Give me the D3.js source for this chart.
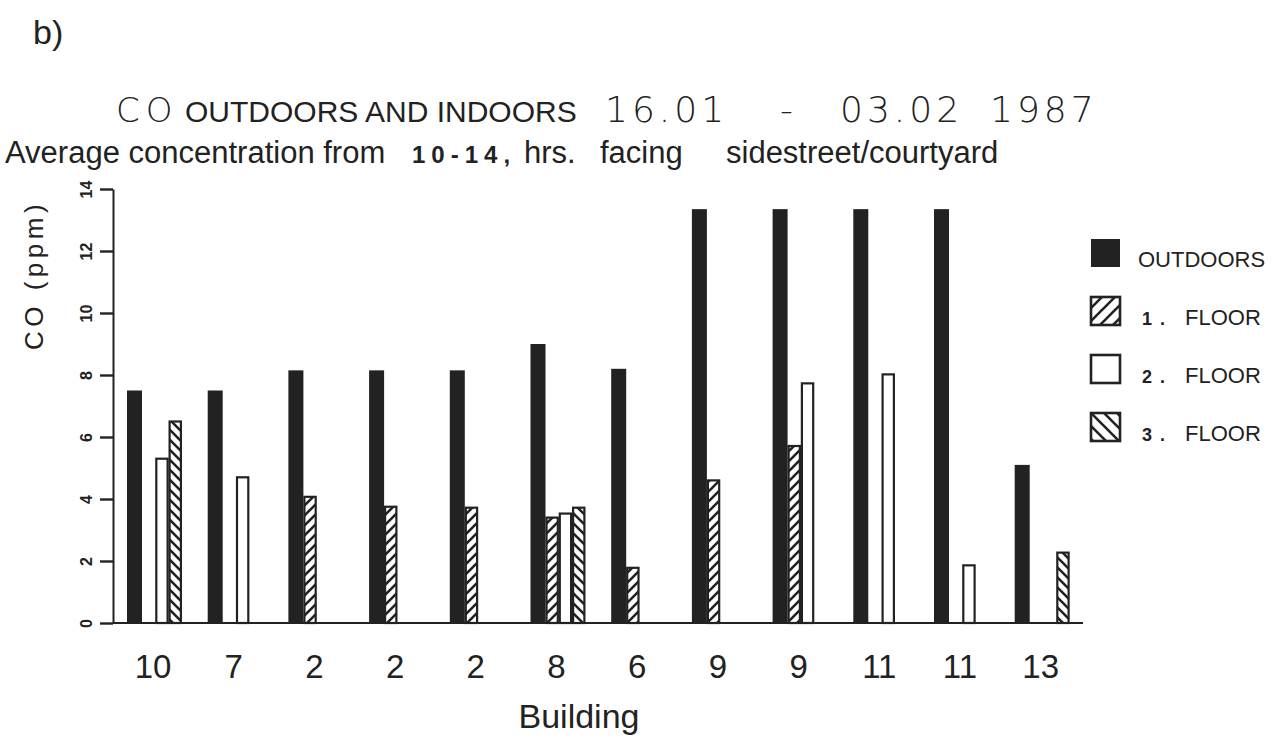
<!DOCTYPE html>
<html><head><meta charset="utf-8">
<script src="https://cdn.jsdelivr.net/npm/d3@7"></script>
<style>body{margin:0;background:#fff}svg{display:block}</style>
</head><body>
<svg id="chart" width="1277" height="741"></svg>
<script>
// ---- data ----
const buildings = ["10","7","2","2","2","8","6","9","9","11","11","13"];
const outdoors  = [7.5, 7.5, 8.15, 8.15, 8.15, 9.0, 8.2, 13.35, 13.35, 13.35, 13.35, 5.1];
const floor1    = [null, null, 4.07, 3.75, 3.72, 3.4, 1.78, 4.6, 5.71, null, null, null];
const floor2    = [5.3, 4.7, null, null, null, 3.53, null, null, 7.73, 8.02, 1.86, null];
const floor3    = [6.5, null, null, null, null, 3.72, null, null, null, null, null, 2.27];
const yTicks    = [0, 2, 4, 6, 8, 10, 12, 14];
const seriesKeys   = ["out", "f1", "f2", "f3"];
const legendNums   = ["", "1.", "2.", "3."];
const legendTexts  = ["OUTDOORS", "FLOOR", "FLOOR", "FLOOR"];

const INK = "#222";
const SANS = "Liberation Sans, Arial, sans-serif";
const THIN = "DejaVu Sans, sans-serif";
const svg = d3.select("#chart");
const defs = svg.append("defs");

function hatch(id, dir, size, sw) {
  const p = defs.append("pattern").attr("id", id)
    .attr("patternUnits", "userSpaceOnUse").attr("width", size).attr("height", size);
  p.append("rect").attr("width", size).attr("height", size).attr("fill", "#fff");
  const s = size;
  const d = dir > 0
    ? `M${-s/4},${s/4} L${s/4},${-s/4} M0,${s} L${s},0 M${3*s/4},${5*s/4} L${5*s/4},${3*s/4}`
    : `M${-s/4},${3*s/4} L${s/4},${5*s/4} M0,0 L${s},${s} M${3*s/4},${-s/4} L${5*s/4},${s/4}`;
  p.append("path").attr("d", d).attr("stroke", INK).attr("stroke-width", sw).attr("fill", "none");
}
hatch("h1", 1, 10, 2.6);
hatch("h3", -1, 10, 2.6);
hatch("lh1", 1, 13, 2.6);
hatch("lh3", -1, 13, 2.6);

const fills = {out: INK, f1: "url(#h1)", f2: "#fff", f3: "url(#h3)"};
const legendFills = [INK, "url(#lh1)", "#fff", "url(#lh3)"];

// ---- scales ----
const x = d3.scaleBand().domain(d3.range(buildings.length)).range([127, 127 + 80.7 * buildings.length]).padding(0);
const y = d3.scaleLinear().domain([0, 14]).range([623, 189]);
const slot = d3.scaleOrdinal().domain(seriesKeys).range([0, 15, 28.3, 41.6]);
const slotW = d3.scaleOrdinal().domain(seriesKeys).range([15, 13.3, 13.3, 13.3]);

// ---- bars ----
const series = {out: outdoors, f1: floor1, f2: floor2, f3: floor3};
const barData = [];
buildings.forEach((b, i) => {
  seriesKeys.forEach(k => {
    const v = series[k][i];
    if (v != null) barData.push({i, k, v});
  });
});
svg.append("g").selectAll("rect").data(barData).join("rect")
  .attr("x", d => x(d.i) + slot(d.k) + (d.k === "out" ? 0 : 1))
  .attr("width", d => slotW(d.k) - (d.k === "out" ? 0 : 2))
  .attr("y", d => y(d.v))
  .attr("height", d => y(0) - y(d.v))
  .attr("fill", d => fills[d.k])
  .attr("stroke", d => d.k === "out" ? "none" : INK)
  .attr("stroke-width", 2.2);

// ---- axes ----
const yAxis = svg.append("g").attr("transform", "translate(113,0)")
  .call(d3.axisLeft(y).tickValues(yTicks).tickSize(13).tickSizeOuter(0).tickFormat(d => d));
yAxis.select(".domain").attr("stroke", INK).attr("stroke-width", 2);
yAxis.selectAll(".tick line").attr("stroke", INK).attr("stroke-width", 2.4);
yAxis.selectAll(".tick text")
  .attr("x", 0).attr("y", 0).attr("dy", "0.35em")
  .attr("text-anchor", "middle")
  .attr("transform", "translate(-27,0) rotate(-90)")
  .attr("font-family", SANS)
  .attr("font-weight", "bold").attr("font-size", 16).attr("fill", INK);

// x baseline
svg.append("line").attr("x1", 113).attr("x2", 1083).attr("y1", y(0)).attr("y2", y(0))
  .attr("stroke", INK).attr("stroke-width", 2.2);

// x labels
svg.append("g").selectAll("text").data(buildings).join("text")
  .attr("x", (d, i) => x(i) + 26).attr("y", 678)
  .attr("text-anchor", "middle")
  .attr("font-family", SANS)
  .attr("font-size", 33).attr("fill", INK)
  .text(d => d);

svg.append("text").attr("x", 579).attr("y", 728).attr("text-anchor", "middle")
  .attr("font-family", SANS)
  .attr("font-size", 34).attr("fill", INK).text("Building");

// y title
svg.append("text").attr("transform", "translate(43,275) rotate(-90)")
  .attr("text-anchor", "middle")
  .attr("font-family", SANS)
  .attr("font-size", 26).attr("letter-spacing", 4.5).attr("fill", INK)
  .text("CO (ppm)");

// ---- titles ----
svg.append("text").attr("x", 33).attr("y", 44)
  .attr("font-family", SANS)
  .attr("font-size", 34).attr("fill", INK).text("b)");

const titleParts = [
  {t: "CO", x: 116, f: THIN, s: 34, ls: 6, w: 200},
  {t: "OUTDOORS AND INDOORS", x: 185, f: SANS, s: 30, ls: 0, w: 400},
  {t: "16.01", x: 605, f: THIN, s: 36, ls: 4, w: 200},
  {t: "-", x: 780, f: THIN, s: 36, ls: 0, w: 200},
  {t: "03.02", x: 840, f: THIN, s: 36, ls: 4, w: 200},
  {t: "1987", x: 990, f: THIN, s: 36, ls: 4, w: 200}
];
svg.append("g").selectAll("text").data(titleParts).join("text")
  .attr("x", d => d.x).attr("y", 122)
  .attr("font-family", d => d.f).attr("font-size", d => d.s)
  .attr("font-weight", d => d.w).attr("letter-spacing", d => d.ls)
  .attr("fill", INK)
  .text(d => d.t);

const subParts = [
  {t: "Average concentration from", x: 5, b: false},
  {t: "10-14,", x: 412, b: true},
  {t: "hrs.", x: 524, b: false},
  {t: "facing", x: 600, b: false},
  {t: "sidestreet/courtyard", x: 726, b: false}
];
svg.append("g").selectAll("text").data(subParts).join("text")
  .attr("x", d => d.x).attr("y", 163)
  .attr("font-family", SANS)
  .attr("font-size", d => d.b ? 24 : 31)
  .attr("font-weight", d => d.b ? "bold" : "normal")
  .attr("letter-spacing", d => d.b ? 6 : 0)
  .attr("fill", INK)
  .text(d => d.t);

// ---- legend ----
const lg = svg.append("g").selectAll("g").data(seriesKeys).join("g")
  .attr("transform", (d, i) => `translate(1090,${238 + i * 58})`);
lg.append("rect").attr("x", 1).attr("y", 1).attr("width", 29).attr("height", 28)
  .attr("fill", (d, i) => legendFills[i])
  .attr("stroke", INK).attr("stroke-width", (d, i) => i === 0 ? 0 : 2.6);
lg.append("text").attr("x", 52).attr("y", 29)
  .attr("font-family", SANS)
  .attr("font-size", 18).attr("font-weight", "bold").attr("letter-spacing", 8).attr("fill", INK)
  .text((d, i) => legendNums[i]);
lg.append("text").attr("x", (d, i) => i === 0 ? 48 : 95).attr("y", 29)
  .attr("font-family", SANS)
  .attr("font-size", 22).attr("fill", INK)
  .text((d, i) => legendTexts[i]);
</script>
</body></html>
